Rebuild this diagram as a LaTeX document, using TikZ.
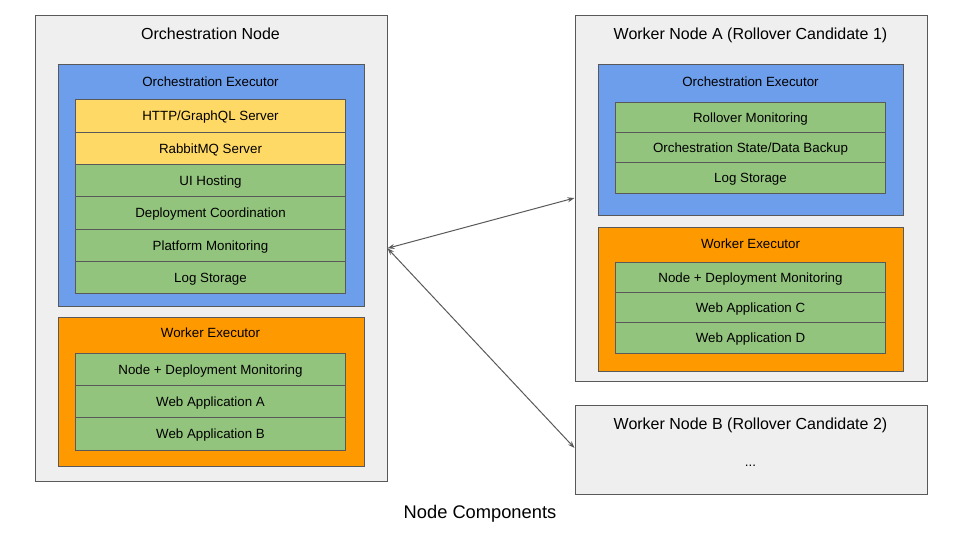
\documentclass[tikz,border=0pt]{standalone}
\usepackage{fontspec}
\setmainfont{Liberation Sans}
\usepackage{tikz}
\usetikzlibrary{arrows.meta, positioning}
\usepackage{xcolor}
\definecolor{hostgray}{HTML}{EFEFEF}
\definecolor{edgegray}{HTML}{595959}
\definecolor{execblue}{HTML}{6D9EEB}
\definecolor{execorange}{HTML}{FF9900}
\definecolor{serveryellow}{HTML}{FFD966}
\definecolor{taskgreen}{HTML}{93C47D}
\tikzset{
  hostbox/.style={draw=edgegray, fill=hostgray, line width=1pt,
                  anchor=north west, inner sep=0pt},
  execbox/.style={draw=edgegray, line width=1pt, anchor=north west, inner sep=0pt},
  rowbox/.style={draw=edgegray, line width=1pt, inner sep=0pt, outer sep=0pt,
                 minimum width=270pt, text height=9.6pt, text depth=0pt,
                 font=\fontsize{13.33}{16}\selectfont},
  leftrow/.style={rowbox, minimum height=32.33pt},
  rightrow/.style={rowbox, minimum height=30.33pt},
  hosttitle/.style={font=\fontsize{16}{19}\selectfont, inner sep=0pt,
                    text height=11.5pt, text depth=0pt},
  exectitle/.style={font=\fontsize{13.33}{16}\selectfont, inner sep=0pt,
                    text height=9.6pt, text depth=0pt},
  link/.style={edgegray, line width=1pt,
               {Stealth[length=7pt,width=5pt]}-{Stealth[length=7pt,width=5pt]}}
}

\begin{document}
\begin{tikzpicture}[x=1pt, y=-1pt]
    \useasboundingbox (0,0) rectangle (960,540);
    % orchestration node
    \node[hostbox, minimum width=352pt, minimum height=465.5pt] (orchhost) at (34.5,15) {};
    \node[hosttitle] (orchhosttitle) at (210.5,33.5) {Orchestration Node};
    \node[execbox, fill=execblue, minimum width=306pt, minimum height=241pt] (orchexec) at (57.5,64.5) {};
    \node[exectitle] (orchexectitle) at (210.5,82) {Orchestration Executor};
    \node[leftrow, fill=serveryellow, anchor=north west] (httpserver) at (75.5,100) {HTTP/GraphQL Server};
    \node[leftrow, fill=serveryellow, below=0pt of httpserver] (rabbitserver) {RabbitMQ Server};
    \node[leftrow, fill=taskgreen, below=0pt of rabbitserver] (uihosting) {UI Hosting};
    \node[leftrow, fill=taskgreen, below=0pt of uihosting] (deploycoord) {Deployment Coordination};
    \node[leftrow, fill=taskgreen, below=0pt of deploycoord] (platformmon) {Platform Monitoring};
    \node[leftrow, fill=taskgreen, below=0pt of platformmon] (orchlogs) {Log Storage};
    \node[execbox, fill=execorange, minimum width=306pt, minimum height=149.5pt] (orchworker) at (57.5,316.5) {};
    \node[exectitle] (orchworkertitle) at (210.5,333) {Worker Executor};
    \node[leftrow, fill=taskgreen, anchor=north west] (orchnodemon) at (75.5,353.3) {Node + Deployment Monitoring};
    \node[leftrow, fill=taskgreen, below=0pt of orchnodemon] (webappa) {Web Application A};
    \node[leftrow, fill=taskgreen, below=0pt of webappa] (webappb) {Web Application B};

    % worker node A
    \node[hostbox, minimum width=352pt, minimum height=365.5pt] (workera) at (574.5,15) {};
    \node[hosttitle] (workeratitle) at (750.5,33.5) {Worker Node A (Rollover Candidate 1)};
    \node[execbox, fill=execblue, minimum width=305pt, minimum height=150.5pt] (workeraexec) at (597.5,64.5) {};
    \node[exectitle] (workeraexectitle) at (750.5,82) {Orchestration Executor};
    \node[rightrow, fill=taskgreen, anchor=north west] (rollovermon) at (615.5,102.3) {Rollover Monitoring};
    \node[rightrow, fill=taskgreen, below=0pt of rollovermon] (statebackup) {Orchestration State/Data Backup};
    \node[rightrow, fill=taskgreen, below=0pt of statebackup] (workeralogs) {Log Storage};
    \node[execbox, fill=execorange, minimum width=305pt, minimum height=144.5pt] (workeraworker) at (597.5,226.5) {};
    \node[exectitle] (workeraworkertitle) at (750.5,244) {Worker Executor};
    \node[rightrow, fill=taskgreen, anchor=north west] (workeranodemon) at (615.5,262.3) {Node + Deployment Monitoring};
    \node[rightrow, fill=taskgreen, below=0pt of workeranodemon] (webappc) {Web Application C};
    \node[rightrow, fill=taskgreen, below=0pt of webappc] (webappd) {Web Application D};

    % worker node B
    \node[hostbox, minimum width=352pt, minimum height=89.5pt] (workerb) at (574.5,404.7) {};
    \node[hosttitle] (workerbtitle) at (750.5,423.5) {Worker Node B (Rollover Candidate 2)};
    \node[font=\fontsize{13.33}{16}\selectfont, inner sep=0pt, anchor=base] (workerbdots) at (750.5,466) {...};

    \coordinate (workeralink) at (574.5,198);
    \coordinate (workerblink) at (574.5,448);
    \draw[link] (orchhost.east) -- (workeralink);
    \draw[link] (orchhost.east) -- (workerblink);

    \node[font=\fontsize{18.3}{22}\selectfont, inner sep=0pt, text height=13.1pt, text depth=0pt]
      (caption) at (480,511.5) {Node Components};
  \end{tikzpicture}
\end{document}
